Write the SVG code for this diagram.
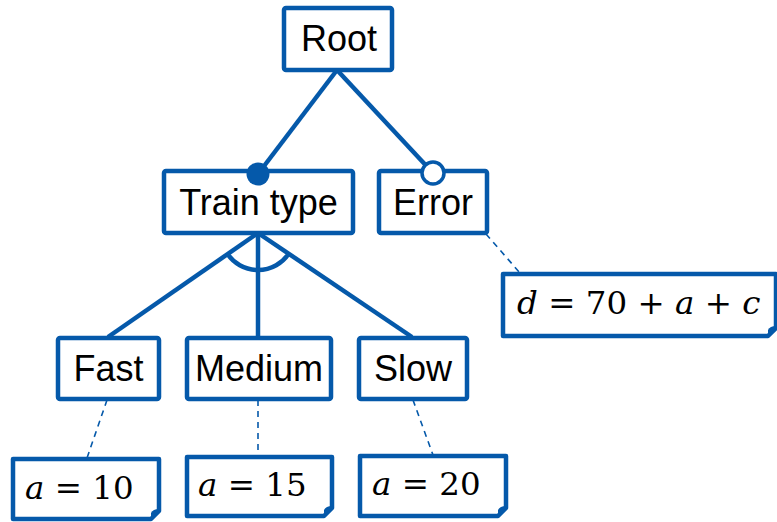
<svg xmlns="http://www.w3.org/2000/svg" width="777" height="522" viewBox="0 0 777 522">
<style>
.box{fill:#fff;stroke:#0559AA;stroke-width:4.5;stroke-linejoin:round}
.ln{stroke:#0559AA;stroke-width:4.5;fill:none}
.dash{stroke:#0559AA;stroke-width:1.6;stroke-dasharray:6,5;fill:none}
.lbl{font-family:"Liberation Sans",Arial,sans-serif;font-size:36px;fill:#000;text-anchor:middle}
.math{font-family:"DejaVu Serif","Liberation Serif",serif;font-size:32.5px;fill:#000}
.v{font-style:italic}
.fold{fill:#0559AA}
</style>
<g id="connectors">
<line class="ln" x1="337" y1="70" x2="258" y2="174"/>
<line class="ln" x1="337" y1="70" x2="433" y2="173"/>
<line class="ln" x1="258" y1="233" x2="108" y2="337"/>
<line class="ln" x1="258" y1="233" x2="258" y2="337"/>
<line class="ln" x1="258" y1="233" x2="412" y2="337"/>
<path class="ln" d="M227.5,254 A37,37 0 0 0 288.5,254" stroke-width="3"/>
<line class="dash" x1="486" y1="234" x2="520" y2="273"/>
<line class="dash" x1="107" y1="400" x2="87" y2="458"/>
<line class="dash" x1="258" y1="400" x2="258" y2="456"/>
<line class="dash" x1="413" y1="400" x2="433" y2="455"/>
</g>
<g id="root">
<rect class="box" x="284" y="8" width="108" height="62" rx="2"/>
<text class="lbl" x="339" y="51">Root</text>
</g>
<g id="train-type">
<rect class="box" x="164" y="171" width="189" height="62" rx="2"/>
<text class="lbl" x="258.5" y="215">Train type</text>
<circle cx="258" cy="174" r="11.5" fill="#0559AA"/>
</g>
<g id="error">
<rect class="box" x="379" y="171" width="108" height="62" rx="2"/>
<text class="lbl" x="433" y="215">Error</text>
<circle cx="433" cy="173" r="11" fill="#fff" stroke="#0559AA" stroke-width="3.5"/>
</g>
<g id="fast">
<rect class="box" x="58" y="338" width="101" height="61" rx="2"/>
<text class="lbl" x="108.5" y="381">Fast</text>
</g>
<g id="medium">
<rect class="box" x="187" y="338" width="144" height="61" rx="2"/>
<text class="lbl" x="259" y="381">Medium</text>
</g>
<g id="slow">
<rect class="box" x="359" y="338" width="108" height="61" rx="2"/>
<text class="lbl" x="413" y="381">Slow</text>
</g>
<g id="note-d">
<path class="box" d="M503,274 H776 V328 L768,336 H503 Z"/>
<path class="fold" d="M776,328 L768,336 L768,330 Q770,326 776,326 Z"/>
<text class="math" x="517" y="314"><tspan class="v">d</tspan> = 70 + <tspan class="v">a</tspan> + <tspan class="v">c</tspan></text>
</g>
<g id="note-a10">
<path class="box" d="M13,459 H159 V511 L151,519 H13 Z"/>
<path class="fold" d="M159,511 L151,519 L151,513 Q153,509 159,509 Z"/>
<text class="math" x="25" y="499"><tspan class="v">a</tspan> = 10</text>
</g>
<g id="note-a15">
<path class="box" d="M187,457 H332 V508 L324,516 H187 Z"/>
<path class="fold" d="M332,508 L324,516 L324,510 Q326,506 332,506 Z"/>
<text class="math" x="198" y="496"><tspan class="v">a</tspan> = 15</text>
</g>
<g id="note-a20">
<path class="box" d="M360,456 H506 V508 L498,516 H360 Z"/>
<path class="fold" d="M506,508 L498,516 L498,510 Q500,506 506,506 Z"/>
<text class="math" x="372" y="495"><tspan class="v">a</tspan> = 20</text>
</g>
</svg>
